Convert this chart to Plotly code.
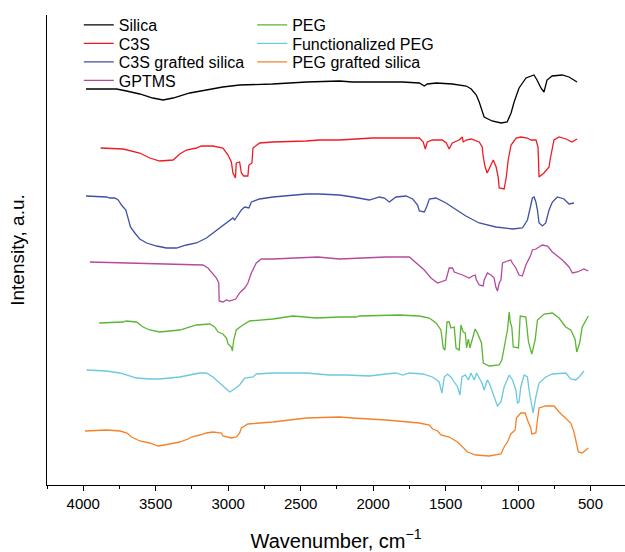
import plotly.graph_objects as go

# Wavenumber (cm-1) and intensity (a.u., stacked offsets)
silica_wn = [3981, 3770, 3701, 3610, 3520, 3449, 3380, 3265, 3150, 3038, 2921, 2694, 2459, 2232, 2143,
             1798, 1681, 1647, 1626, 1564, 1454, 1357, 1323, 1288, 1268, 1254, 1234, 1179, 1117, 1075,
             1048, 1027, 993, 945, 890, 869, 842, 821, 800, 765, 696, 648, 593]
silica_y = [396, 396, 394, 391, 387, 385, 387, 392, 395, 398, 400, 401, 403, 404, 403,
            403, 402, 399, 401, 402, 401, 399, 396, 390, 383, 377, 368, 364, 362, 363,
            372, 383, 397, 407, 410, 405, 397, 393, 405, 409, 410, 408, 403]

c3s_wn = [3880, 3725, 3610, 3541, 3472, 3380, 3334, 3288, 3219, 3185, 3105, 3036, 3001, 2978, 2967,
          2950, 2944, 2921, 2909, 2893, 2864, 2857, 2836, 2829, 2783, 2691, 2461, 2370, 2232, 2074,
          2005, 1681, 1654, 1640, 1626, 1592, 1523, 1495, 1475, 1454, 1406, 1385, 1378, 1358, 1323,
          1268, 1247, 1240, 1227, 1213, 1192, 1171, 1151, 1137, 1130, 1096, 1082, 1068, 1048, 1013,
          979, 937, 910, 876, 862, 859, 855, 821, 786, 779, 765, 752, 717, 669, 628, 593]
c3s_y = [337, 336, 332, 327, 324, 325, 331, 335, 337, 339, 339, 337, 330, 323, 312,
         307, 322, 323, 312, 309, 309, 320, 322, 337, 342, 343, 344, 345, 345, 346,
         347, 347, 343, 336, 343, 345, 345, 342, 336, 342, 345, 348, 343, 345, 346,
         343, 338, 328, 318, 312, 318, 325, 318, 308, 297, 296, 307, 325, 340, 347,
         348, 347, 345, 345, 338, 318, 308, 312, 318, 325, 335, 345, 348, 346, 343, 346]

c3s_silica_wn = [3981, 3885, 3839, 3816, 3782, 3759, 3736, 3706, 3690, 3674, 3644, 3610, 3563, 3494,
                 3426, 3357, 3288, 3219, 3150, 3105, 3036, 2990, 2967, 2955, 2933, 2909, 2886, 2857,
                 2840, 2783, 2691, 2461, 2370, 2232, 2141, 2026, 1957, 1922, 1888, 1842, 1773, 1727,
                 1693, 1681, 1647, 1631, 1612, 1566, 1497, 1428, 1360, 1268, 1153, 1039, 970, 935,
                 919, 901, 889, 877, 866, 855, 832, 809, 786, 763, 729, 683, 648, 614]
c3s_silica_y = [289, 288, 288, 287, 287, 285, 280, 275, 267, 258, 252, 246, 242, 239,
                237, 237, 240, 242, 247, 252, 259, 264, 267, 265, 270, 275, 278, 277,
                283, 286, 288, 291, 291, 290, 288, 285, 288, 287, 283, 288, 289, 286,
                280, 274, 273, 278, 286, 287, 282, 275, 269, 262, 258, 256, 257, 265,
                277, 287, 288, 283, 275, 262, 259, 262, 275, 283, 288, 286, 281, 282]

gptms_wn = [3954, 3610, 3380, 3174, 3139, 3105, 3081, 3065, 3062, 3036, 3012, 2990, 2948, 2921, 2886,
            2864, 2840, 2806, 2771, 2691, 2461, 2382, 2232, 2095, 1911, 1750, 1704, 1647, 1601, 1555,
            1497, 1475, 1452, 1440, 1383, 1337, 1314, 1296, 1287, 1268, 1240, 1234, 1211, 1187, 1165,
            1153, 1142, 1130, 1118, 1107, 1073, 1050, 1039, 1015, 993, 970, 946, 912, 901, 877,
            832, 797, 763, 694, 648, 625, 591, 545, 515]
gptms_y = [223, 222, 221, 220, 217, 211, 207, 202, 184, 183, 185, 184, 186, 192, 197,
           202, 212, 222, 226, 226, 227, 228, 226, 227, 228, 228, 222, 215, 207, 202,
           205, 217, 217, 213, 210, 207, 209, 210, 205, 200, 199, 205, 212, 210, 207,
           198, 194, 202, 205, 222, 224, 225, 222, 217, 210, 209, 220, 230, 235, 236,
           240, 239, 233, 225, 218, 212, 213, 216, 214]

peg_wn = [3890, 3725, 3706, 3632, 3587, 3541, 3472, 3334, 3219, 3127, 3093, 3070, 3036, 3012, 3001,
          2978, 2971, 2962, 2944, 2909, 2852, 2691, 2554, 2393, 2232, 2117, 2095, 1820, 1681, 1612,
          1566, 1532, 1516, 1504, 1490, 1475, 1463, 1440, 1428, 1406, 1394, 1378, 1364, 1355, 1343,
          1332, 1296, 1280, 1252, 1240, 1199, 1130, 1112, 1100, 1073, 1061, 1054, 1043, 1033, 997,
          985, 946, 928, 905, 882, 866, 820, 763, 717, 671, 636, 607, 595, 575, 557, 515]
peg_y = [162, 163, 164, 163, 158, 155, 153, 155, 160, 161, 158, 153, 151, 147, 141,
         138, 134, 145, 155, 159, 164, 166, 169, 167, 168, 168, 169, 170, 169, 167,
         162, 155, 137, 135, 163, 163, 157, 158, 137, 135, 160, 153, 152, 137, 146,
         137, 156, 152, 142, 122, 119, 120, 125, 135, 155, 173, 163, 158, 138, 137,
         169, 168, 143, 131, 145, 165, 171, 172, 167, 158, 155, 146, 133, 142, 158, 169]

fpeg_wn = [3977, 3839, 3747, 3678, 3632, 3541, 3472, 3334, 3196, 3150, 3105, 3059, 3024, 2990, 2967,
           2944, 2921, 2886, 2829, 2806, 2691, 2461, 2301, 2186, 2026, 1911, 1842, 1796, 1750, 1658,
           1590, 1544, 1525, 1509, 1486, 1463, 1440, 1417, 1401, 1387, 1364, 1342, 1325, 1302, 1286,
           1268, 1249, 1234, 1211, 1199, 1176, 1142, 1118, 1096, 1061, 1038, 1015, 1004, 993, 981,
           958, 935, 924, 905, 896, 877, 855, 809, 763, 671, 636, 602, 579, 545]
fpeg_y = [115, 114, 112, 109, 107, 106, 106, 108, 112, 112, 108, 102, 97, 93, 95,
          98, 100, 107, 108, 111, 112, 112, 110, 110, 109, 111, 112, 110, 112, 111,
          108, 103, 92, 108, 111, 108, 103, 98, 90, 108, 110, 105, 112, 105, 112,
          107, 102, 95, 105, 102, 92, 79, 83, 98, 110, 105, 95, 82, 83, 98,
          110, 108, 95, 78, 72, 88, 102, 108, 111, 112, 106, 105, 108, 114]

pegsil_wn = [3988, 3839, 3747, 3697, 3667, 3610, 3541, 3483, 3403, 3334, 3277, 3254, 3196, 3150, 3105,
             3047, 3036, 3012, 2978, 2944, 2921, 2909, 2864, 2783, 2691, 2461, 2232, 2141, 1911, 1681,
             1612, 1589, 1555, 1532, 1475, 1417, 1383, 1348, 1291, 1199, 1118, 1096, 1073, 1050, 1020,
             1011, 981, 951, 935, 912, 905, 877, 866, 855, 809, 752, 717, 683, 636, 614,
             598, 584, 557, 533, 515]
pegsil_y = [54, 55, 54, 52, 48, 44, 42, 39, 41, 43, 46, 48, 50, 52, 53,
            52, 49, 48, 47, 48, 52, 57, 61, 62, 63, 67, 68, 67, 65, 62,
            60, 56, 54, 50, 48, 43, 38, 33, 30, 29, 31, 38, 43, 51, 55,
            67, 72, 72, 65, 57, 51, 52, 65, 77, 79, 79, 73, 68, 62, 53,
            43, 33, 32, 35, 37]

names = ["Silica", "C3S", "C3S grafted silica", "GPTMS",
         "PEG", "Functionalized PEG", "PEG grafted silica"]
colors = ["#000000", "#ed1c24", "#3f51a5", "#b34a9c", "#5ab532", "#6bc8de", "#f5822a"]

series = [
    (silica_wn, silica_y), (c3s_wn, c3s_y), (c3s_silica_wn, c3s_silica_y), (gptms_wn, gptms_y),
    (peg_wn, peg_y), (fpeg_wn, fpeg_y), (pegsil_wn, pegsil_y),
]

FONT = "Arial, 'Liberation Sans', sans-serif"

# legend placement (paper coords): two columns, rows close together
leg_x = [0.0550, 0.0550, 0.0550, 0.0550, 0.3550, 0.3550, 0.3550]
leg_y = [1.0150, 0.9757, 0.9363, 0.8970, 1.0150, 0.9757, 0.9363]

fig = go.Figure()
layout_legends = {}
for i, ((wn, y), name, col) in enumerate(zip(series, names, colors)):
    key = "legend" if i == 0 else f"legend{i + 1}"
    fig.add_trace(go.Scatter(
        x=wn, y=y, mode="lines", name=name,
        line=dict(color=col, width=1.3),
        legend=key,
    ))
    layout_legends[key] = dict(
        x=leg_x[i], y=leg_y[i], xanchor="left", yanchor="top",
        xref="paper", yref="paper",
        font=dict(family=FONT, size=16, color="#000000"),
        bgcolor="rgba(0,0,0,0)", borderwidth=0, itemwidth=30,
    )

fig.update_layout(
    width=625, height=552,
    margin=dict(l=47, r=0, t=15, b=67),
    plot_bgcolor="white", paper_bgcolor="white",
    font=dict(family=FONT, color="#000000"),
    showlegend=True,
    xaxis=dict(
        range=[4250, 262], showgrid=False, zeroline=False,
        showline=True, linecolor="#000000", linewidth=1,
        ticks="outside", ticklen=5, tickcolor="#000000", tickwidth=1,
        tick0=0, dtick=500,
        minor=dict(dtick=250, tick0=0, ticks="outside", ticklen=3, tickcolor="#000000"),
        tickfont=dict(family=FONT, size=15, color="#000000"),
        title=dict(text="Wavenumber, cm<sup>−1</sup>", font=dict(family=FONT, size=20, color="#000000"),
                   standoff=22),
    ),
    yaxis=dict(
        range=[0, 470], showgrid=False, zeroline=False,
        showline=True, linecolor="#000000", linewidth=1,
        showticklabels=False, ticks="",
        title=dict(text="Intensity, a.u.", font=dict(family=FONT, size=19, color="#000000"),
                   standoff=16),
    ),
    **layout_legends,
)

fig.write_html("out.html")
